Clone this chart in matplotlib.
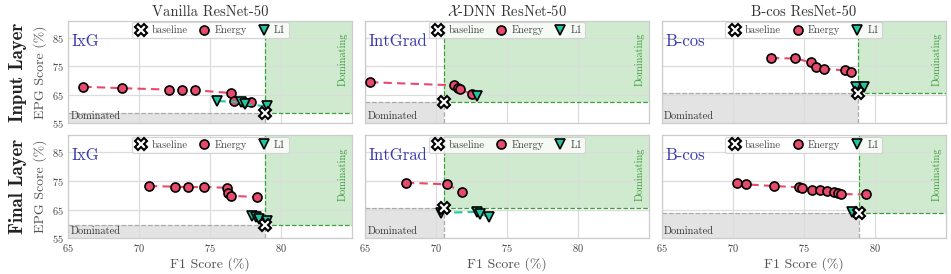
import matplotlib
matplotlib.use("Agg")
import matplotlib.pyplot as plt
from matplotlib.lines import Line2D

plt.rcParams['font.family'] = ['cmr10', 'DejaVu Serif']
plt.rcParams['mathtext.fontset'] = 'cm'
plt.rcParams['axes.formatter.use_mathtext'] = True

models = ['Vanilla ResNet-50', r'$\mathcal{X}$-DNN ResNet-50', 'B-cos ResNet-50']
methods = ['IxG', 'IntGrad', 'B-cos']
rows = ['Input Layer', 'Final Layer']
x_ticks = [65, 70, 75, 80]
y_ticks = [55, 65, 75, 85]

# ---- Input layer ----
base_in_f1 = [78.85, 70.55, 78.85]
base_in_epg = [58.5, 62.6, 65.5]
energy_in_f1 = [
    [66.06, 68.76, 72.1, 73.0, 73.9, 76.45, 76.65, 77.4, 77.9],
    [65.35, 71.26, 71.56, 71.7, 72.55],
    [72.69, 74.4, 75.54, 75.85, 76.46, 77.9, 78.3],
]
energy_in_epg = [
    [67.8, 67.3, 66.8, 66.8, 66.6, 65.6, 62.8, 62.5, 62.3],
    [69.4, 68.3, 67.5, 66.9, 65.1],
    [77.85, 77.7, 76.35, 74.7, 74.1, 73.5, 72.8],
]
l1_in_f1 = [
    [75.5, 77.15, 77.45, 78.97],
    [72.9],
    [78.66, 79.23],
]
l1_in_epg = [
    [62.8, 62.4, 61.6, 61.0],
    [64.7],
    [67.8, 67.8],
]

# ---- Final layer ----
base_fin_f1 = [78.87, 70.55, 78.87]
base_fin_epg = [59.6, 65.6, 63.7]
energy_fin_f1 = [
    [70.68, 72.51, 73.45, 74.58, 76.17, 76.25, 76.45, 78.26],
    [67.88, 70.74, 71.85],
    [70.3, 70.95, 72.93, 74.66, 74.9, 75.6, 76.17, 76.64, 77.12, 77.43, 77.63, 79.37],
]
energy_fin_epg = [
    [73.2, 73.0, 72.8, 72.9, 72.6, 70.8, 69.8, 69.4],
    [74.4, 73.8, 71.2],
    [74.4, 73.8, 73.2, 72.8, 72.4, 71.9, 71.7, 71.6, 71.3, 70.7, 70.4, 70.3],
]
l1_fin_f1 = [
    [77.95, 78.2, 78.45, 78.97],
    [70.32, 72.88, 73.08, 73.75],
    [78.41],
]
l1_fin_epg = [
    [62.9, 62.3, 61.6, 61.2],
    [63.9, 64.2, 63.5, 62.4],
    [64.3],
]

data = [
    (base_in_f1, base_in_epg, energy_in_f1, energy_in_epg, l1_in_f1, l1_in_epg),
    (base_fin_f1, base_fin_epg, energy_fin_f1, energy_fin_epg, l1_fin_f1, l1_fin_epg),
]

E_COL = '#e84a6c'
L_COL = '#1fc7a0'
B_COL = '#3838b0'
XMIN, XMAX = 65, 85
YMIN, YMAX = 55, 91

W, H = 951, 274
fig = plt.figure(figsize=(W / 100, H / 100), dpi=100)

col_left = [68.3, 365.0, 661.7]
ax_w = 284.0
row_top = [20.5, 135.0]
row_bot = [123.3, 238.3]

for r in range(2):
    bf, be, ef, ee, lf, le = data[r]
    for c in range(3):
        ax = fig.add_axes([col_left[c] / W, 1 - row_bot[r] / H, ax_w / W,
                           (row_bot[r] - row_top[r]) / H])
        ax.set_xlim(XMIN, XMAX)
        ax.set_ylim(YMIN, YMAX)
        ax.set_xticks(x_ticks)
        ax.set_yticks(y_ticks)
        ax.set_axisbelow(True)
        ax.grid(True, color='#dcdcdc', lw=0.9, zorder=0.5)
        for s in ax.spines.values():
            s.set_color('#cccccc')
            s.set_linewidth(0.9)
        ax.tick_params(length=0, labelsize=7.5, colors='#444444', pad=3)

        bx, by = bf[c], be[c]
        # regions
        ax.fill_between([bx, XMAX], by, YMAX, color='#2ca02c', alpha=0.22,
                        lw=0, zorder=0.1)
        ax.fill_between([XMIN, bx], YMIN, by, color='#bbbbbb', alpha=0.4,
                        lw=0, zorder=0.1)
        ax.plot([bx, bx], [by, YMAX], ls='--', color='#3aa03a', lw=0.9, zorder=1)
        ax.plot([bx, XMAX], [by, by], ls='--', color='#3aa03a', lw=0.9, zorder=1)
        ax.plot([bx, bx], [YMIN, by], ls='--', color='#aaaaaa', lw=0.9, zorder=1)
        ax.plot([XMIN, bx], [by, by], ls='--', color='#aaaaaa', lw=0.9, zorder=1)

        ax.text(0.008, 0.025, 'Dominated', transform=ax.transAxes, fontsize=7.5,
                color='#333333', ha='left', va='bottom', zorder=2)
        ax.text(0.985, 0.62, 'Dominating', transform=ax.transAxes, fontsize=7.5,
                color='#3a9a3a', ha='right', va='center', rotation=90, zorder=2)
        ax.text(0.012, 0.80, methods[c], transform=ax.transAxes, fontsize=12,
                color=B_COL, ha='left', va='center', zorder=2)

        ax.plot(ef[c], ee[c], ls='--', color=E_COL, lw=1.5, dashes=(4, 2.5),
                marker='o', ms=6.5, mfc=E_COL, mec='black', mew=1.2, zorder=4)
        ax.plot(lf[c], le[c], ls='--', color=L_COL, lw=1.5, dashes=(4, 2.5),
                marker='v', ms=7.5, mfc=L_COL, mec='black', mew=1.2, zorder=4)
        ax.plot([bx], [by], ls='none', marker='X', ms=9, mfc='white',
                mec='black', mew=1.5, zorder=5)

        handles = [
            Line2D([], [], ls='none', marker='X', ms=9, mfc='white', mec='black', mew=1.5),
            Line2D([], [], ls='none', marker='o', ms=6.5, mfc=E_COL, mec='black', mew=1.2),
            Line2D([], [], ls='none', marker='v', ms=7.5, mfc=L_COL, mec='black', mew=1.2),
        ]
        leg = ax.legend(handles, ['baseline', 'Energy', 'L1'], loc='upper center',
                        bbox_to_anchor=(0.5, 1.035), ncol=3, fontsize=7.5,
                        frameon=True, handletextpad=0.4, columnspacing=1.0,
                        borderpad=0.3, handlelength=1.2, fancybox=True)
        leg.get_frame().set_edgecolor('#cccccc')
        leg.get_frame().set_linewidth(0.8)
        for t in leg.get_texts():
            t.set_color('#444444')
        leg.set_zorder(10)

        if r == 0:
            ax.set_title(models[c], fontsize=10.5, color='#333333', pad=3)
        if c == 0:
            ax.set_ylabel('EPG Score (%)', fontsize=10, color='#555555', labelpad=4)
            fig.text(18 / W, 1 - (row_top[r] + row_bot[r]) / 2 / H, rows[r],
                     rotation=90, ha='center', va='center', fontsize=13.5,
                     family=['cmb10', 'DejaVu Serif'], color='#222222')
        else:
            ax.set_yticklabels([])
        if r == 1:
            ax.set_xlabel('F1 Score (%)', fontsize=10, color='#555555', labelpad=2)
        else:
            ax.set_xticklabels([])

fig.savefig('out.png', dpi=100)
